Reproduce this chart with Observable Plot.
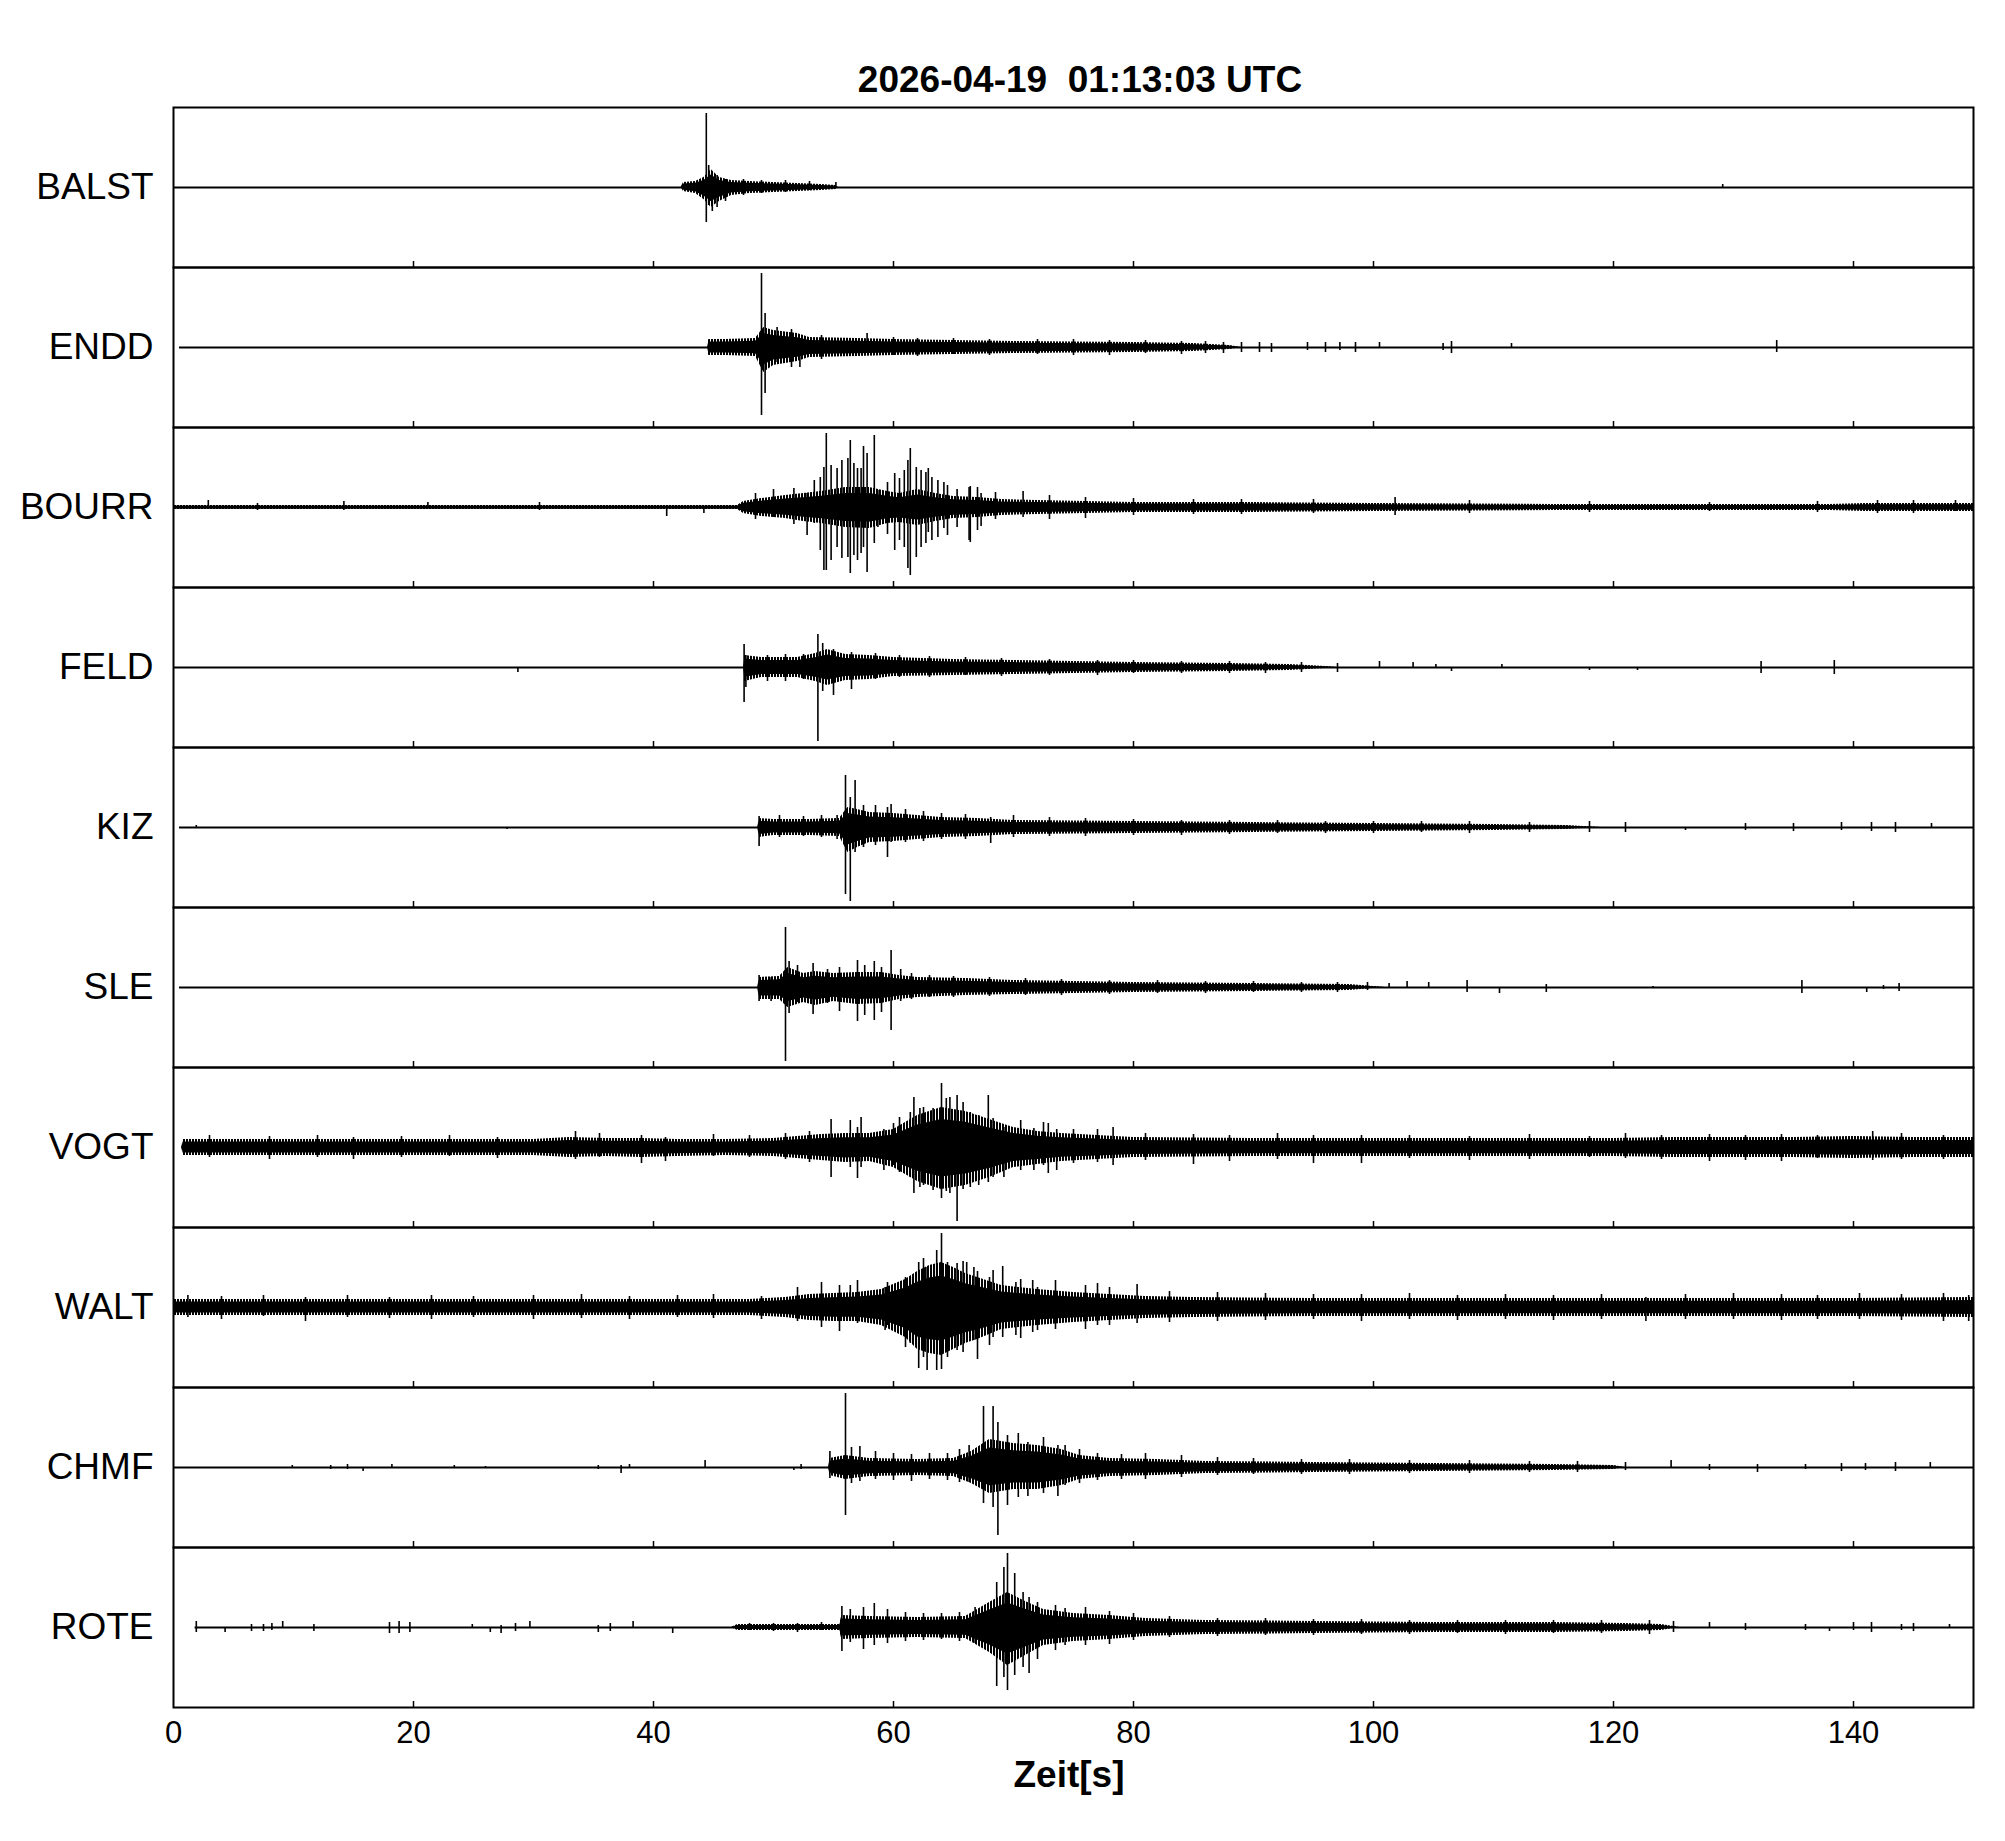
<!DOCTYPE html>
<html><head><meta charset="utf-8">
<script src="https://cdn.jsdelivr.net/npm/d3@7"></script>
<script src="https://cdn.jsdelivr.net/npm/@observablehq/plot@0.6"></script>
<style>
body{margin:0;background:#fff;}
#wrap{position:relative;width:2005px;height:1841px;font-family:"Liberation Sans",Arial,sans-serif;}
.lbl{position:absolute;white-space:pre;font-weight:bold;font-size:37px;line-height:37px;color:#000;transform:translateX(-50%);}
</style></head>
<body><div id="wrap"><div id="chart"></div>
<div class="lbl" id="title" style="left:1080px;top:61px;">2026-04-19  01:13:03 UTC</div>
<div class="lbl" id="xlabel" style="left:1069px;top:1756px;">Zeit[s]</div>
</div>
<script>
const stations = ["BALST","ENDD","BOURR","FELD","KIZ","SLE","VOGT","WALT","CHMF","ROTE"];
const traceStart = [0,0.5,0,0,0.5,0.5,0.7,0,0,1.8];
const traceEnd = 150;
const xTickLabels = [0,20,40,60,80,100,120,140];
const rowTicks = [20,40,60,80,100,120,140];

// envelope breakpoints: [time s, upper amplitude, lower amplitude]
const envBALST = [[0,0,0],[42.3,0,0],[42.5,5,4],[43.5,6,6],[44.2,10,12],[44.8,18,20],[45.5,10,14],[46.5,7,8],[48,6,6],[50,5,5],[52,4,4],[54,3,3],[55.2,2,2],[55.4,0,0],[150,0,0]];
const envENDD = [[0.5,0,0],[44.5,0,0],[44.6,8,8],[46,8,8],[48.5,9,9],[49.2,20,25],[50,17,18],[52,14,14],[53,10,10],[57,9,9],[60,8,8],[65,7,7],[70,6,6],[80,5,5],[85,4,4],[88,2,2],[89,0,0],[150,0,0]];
const envBOURR = [[0,2,2],[47,2,2],[47.5,6,6],[49,9,9],[51,12,11],[52.5,14,14],[54,16,16],[56,20,20],[58,20,21],[59.5,16,16],[60.5,14,15],[62,18,18],[63.5,14,14],[65,11,11],[67,10,10],[69,8,8],[72,7,7],[76,6,6],[80,5,5],[90,5,5],[100,4,4],[115,3,3],[130,3,3],[138,3,3],[141,4,4],[150,4,4]];
const envFELD = [[0,0,0],[47.5,0,0],[47.6,12,14],[49,10,10],[52,10,10],[53.5,14,14],[54.5,18,18],[56,13,13],[58,12,12],[60,10,9],[65,8,8],[70,7,7],[75,6,6],[80,5,5],[88,4,4],[93,3,3],[96,1,1],[97,0,0],[150,0,0]];
const envKIZ = [[0.5,0,0],[48.7,0,0],[48.8,9,10],[50,8,8],[53,8,8],[55.5,9,9],[56.2,20,25],[57,18,20],[58,15,15],[60,14,14],[62,12,12],[64,10,10],[67,9,9],[70,7,7],[80,6,6],[90,5,5],[100,4,4],[110,3,3],[116,2,2],[119,0,0],[150,0,0]];
const envSLE = [[0.5,0,0],[48.7,0,0],[48.8,10,12],[50.5,11,12],[51.2,20,20],[52.5,14,15],[53.5,16,18],[55,14,14],[57,15,17],[59,15,16],[60.5,12,12],[62,10,10],[66,9,8],[70,7,7],[75,6,6],[80,5,5],[90,4,4],[98,3,3],[100,1,1],[101,0,0],[150,0,0]];
const envVOGT = [[0.7,0,0],[0.8,8,8],[10,8,8],[20,8,8],[30,8,8],[33,10,10],[36,9,9],[39,9,10],[42,8,9],[46,8,8],[50,9,9],[52,11,11],[54,13,13],[56,14,15],[58,14,14],[60,18,20],[62,32,34],[64,40,42],[66,36,38],[68,28,30],[70,20,20],[72,16,17],[74,14,14],[77,12,12],[80,10,10],[90,9,9],[100,9,9],[110,9,9],[120,9,9],[125,10,10],[135,10,10],[140,11,11],[145,10,10],[150,10,10]];
const envWALT = [[0,8,8],[10,8,8],[20,8,8],[30,8,8],[40,8,8],[48,8,8],[51,10,10],[53,13,13],[55,14,14],[57,15,14],[59,18,18],[61,28,30],[62,36,42],[63,42,46],[64,45,48],[65,40,42],[66,34,36],[67,30,32],[69,22,22],[72,18,18],[75,15,15],[78,13,13],[81,11,11],[85,10,10],[95,9,9],[110,9,9],[125,9,9],[140,9,9],[150,10,10]];
const envCHMF = [[0,0,0],[54.6,0,0],[54.7,9,8],[56,12,12],[58,9,9],[62,8,8],[65,9,9],[66.5,16,16],[68,28,26],[70,24,22],[72,22,22],[74,18,18],[75.5,12,12],[78,9,9],[82,8,8],[86,6,6],[95,5,5],[105,4,4],[115,3,3],[120,2,2],[121,0,0],[150,0,0]];
const envROTE = [[1.8,0,0],[46.5,0,0],[47,3,3],[55.5,3,3],[55.7,12,12],[58,11,11],[62,10,10],[66,11,11],[68,25,25],[69.5,35,38],[71,26,28],[72.5,18,18],[75,14,14],[78,12,12],[81,9,9],[86,7,7],[95,6,6],[105,5,5],[115,5,5],[121,4,4],[124,3,3],[125.5,0,0],[150,0,0]];

// prominent peaks: [time s, upward peak, downward peak]
const spkBALST = [[44.4,74,35],[44.6,22,18],[44.9,8,24],[45.3,12,20],[46,8,14],[47.5,8,8],[49,7,6],[51,7,5],[53,6,3],[55.2,5,0],[129.1,3,0]];
const spkENDD = [[49.0,74,68],[49.3,34,46],[50.3,20,15],[51.5,18,20],[52.2,8,20],[54,12,12],[57.8,14,6],[60,10,8],[62,9,9],[65,9,7],[68,8,8],[72,8,7],[75,8,8],[78,7,8],[81,7,6],[84,6,7],[86,6,6],[87.5,5,6],[89,5,5],[90.5,5,5],[91.5,4,5],[94.5,5,3],[96,5,5],[97.2,5,3],[98.5,5,5],[100.5,5,0],[105.8,4,3],[106.5,6,6],[111.5,4,0],[133.6,7,5]];
const spkBOURR = [[2.9,7,0],[7,4,3],[14.2,6,3],[21.2,5,0],[30.5,5,3],[41.1,0,9],[44.2,0,6],[48.5,14,12],[50,18,10],[51.7,19,17],[52.8,14,28],[53.4,27,16],[53.9,30,43],[54.2,40,63],[54.4,74,63],[54.8,42,53],[55.3,39,40],[55.7,47,51],[56.2,49,50],[56.4,67,66],[56.7,44,48],[57.0,39,53],[57.3,39,46],[57.5,61,40],[57.8,54,65],[58.4,72,36],[58.7,17,20],[59.5,25,27],[60.1,34,43],[60.5,29,33],[60.9,37,40],[61.2,47,61],[61.4,59,68],[61.9,40,50],[62.3,37,40],[62.7,35,36],[62.9,39,25],[63.2,30,33],[63.7,27,30],[64.2,25,21],[64.5,22,28],[65.3,18,20],[66.3,20,33],[66.4,21,35],[67.0,20,23],[67.3,14,19],[68.5,15,12],[70.8,16,10],[73,12,12],[76,10,11],[80,9,8],[85,8,7],[89,8,7],[95,8,6],[101.8,10,8],[108,7,6],[118,6,5],[128,5,4],[137,6,5],[142,7,6],[145,7,6],[148.5,7,4]];
const spkFELD = [[28.7,0,5],[47.55,23,35],[47.7,12,20],[49.5,12,14],[51,13,14],[52.5,13,12],[53.7,33,74],[54.1,24,24],[55,18,28],[56.5,15,22],[58.5,14,12],[60.5,12,10],[63,11,10],[66,10,8],[69,9,9],[73,8,8],[77,7,8],[80,7,6],[84,6,6],[88,6,6],[91,5,6],[94,5,5],[97,4,5],[100.5,6,0],[103.3,5,0],[105.2,3,0],[106.5,0,4],[110.7,3,0],[118,0,3],[122,0,3],[132.3,6,6],[138.4,7,7]];
const spkKIZ = [[1.9,2,0],[27.8,0,2],[48.8,11,19],[50.5,12,10],[52.5,11,9],[54,12,10],[55.3,12,12],[56,52,67],[56.4,30,74],[56.8,47,25],[57.5,22,20],[58.5,22,18],[59.5,20,30],[59.8,23,15],[61,18,15],[62.5,16,14],[64,14,12],[66,13,12],[68.1,10,16],[70,12,10],[73,10,9],[76,9,9],[80,8,8],[84,7,8],[88,7,7],[92,7,6],[96,6,6],[100,6,6],[104,6,5],[108,6,6],[113,5,5],[118,6,5],[121,5,5],[126,0,3],[131,4,3],[135,4,4],[139,5,3],[141.5,5,4],[143.5,5,5],[146.5,4,0]];
const spkSLE = [[48.8,12,14],[49.8,10,14],[51.0,60,74],[51.3,26,26],[52.0,22,15],[53.3,24,27],[54.5,18,16],[55.5,20,24],[57.0,27,34],[57.6,22,28],[58.4,26,33],[59.0,20,25],[59.8,37,43],[60.6,18,14],[61.5,14,12],[63,12,10],[65,11,10],[68,10,9],[71,9,8],[74,8,8],[78,7,7],[82,7,6],[86,6,6],[90,6,5],[94,5,5],[97,5,5],[99.5,5,3],[101.3,4,0],[102.8,6,0],[104.6,5,0],[107.8,7,5],[110.5,0,6],[114.4,3,5],[123.3,1,1],[135.7,7,6],[141.1,0,5],[142.5,2,2],[143.8,4,4]];
const spkVOGT = [[3,12,10],[8,11,12],[12,12,10],[15,10,12],[19,11,10],[23,12,9],[27,10,11],[33.5,16,12],[35.5,14,10],[39,12,16],[41,10,14],[45,13,9],[48,12,10],[51,14,12],[53,16,15],[54.8,28,30],[56.4,27,20],[57,20,31],[57.3,30,20],[59.2,18,23],[60,24,18],[60.5,30,25],[61.4,35,30],[61.7,50,46],[62.2,39,40],[62.5,40,38],[63.3,39,43],[64.0,64,51],[64.4,49,44],[64.7,50,46],[65.3,52,74],[65.8,45,42],[66.4,35,40],[67.1,32,38],[67.9,52,35],[68.3,29,30],[69.2,20,30],[70.6,27,23],[71.7,19,23],[72.5,25,18],[72.9,24,26],[73.6,18,23],[75,18,16],[77,18,15],[78.3,20,18],[81,14,13],[85,13,17],[88,12,14],[92,14,12],[95,12,16],[99,12,16],[103,12,11],[108,11,13],[113,13,12],[118,11,10],[121,14,11],[124,12,12],[128,13,14],[131,12,13],[134,13,14],[137,12,11],[141.6,16,13],[144,14,12],[147.5,12,12]];
const spkWALT = [[1.2,12,10],[4,11,12],[7.5,12,9],[11,10,14],[14.5,12,10],[18,10,11],[21.5,12,12],[25,11,10],[30,12,12],[34,13,11],[38,11,12],[42,12,10],[45,13,11],[49,11,12],[52,20,14],[54,25,20],[55.5,22,24],[56.4,22,14],[57,27,16],[59.3,20,23],[59.5,25,18],[61,30,40],[61.4,30,36],[62.1,45,61],[62.5,49,50],[62.8,40,63],[63.6,57,63],[64.0,74,62],[64.5,45,50],[65.3,44,43],[65.8,46,45],[66.1,45,35],[66.7,40,33],[67,36,52],[68,30,38],[68.3,37,30],[69.1,41,30],[70.2,25,28],[70.6,28,31],[71.6,27,25],[72,20,23],[73.5,27,22],[76,22,22],[77,24,18],[78,20,18],[80.3,23,16],[83,16,15],[87,15,14],[91,14,13],[95,13,12],[99,13,14],[103,14,12],[107,12,13],[111,13,12],[115,12,13],[119,13,12],[122.7,10,14],[126,13,12],[130,14,12],[134,13,13],[137,12,12],[140.5,14,12],[144,13,13],[147.5,14,14],[149.6,12,14]];
const spkCHMF = [[9.9,2,0],[13.1,2,2],[14.5,3,2],[15.8,0,4],[18.2,3,0],[23.4,2,0],[26,1,1],[35.4,2,2],[37.3,2,6],[38,3,0],[44.3,7,0],[51.7,0,3],[52.3,3,2],[54.7,16,11],[56.0,74,48],[56.5,20,16],[57.2,21,14],[58.5,16,12],[60,14,13],[61.5,13,14],[63,14,12],[64.5,14,13],[65.5,18,15],[66.3,22,15],[67.5,61,36],[68.3,61,40],[68.7,45,68],[69.5,32,38],[70.4,34,30],[71.2,25,29],[72.5,30,26],[73.7,22,29],[74.3,22,18],[75.5,18,16],[77,14,13],[79,13,12],[81,14,12],[84,12,10],[87,10,8],[90,9,7],[94,8,7],[98,8,7],[103,7,6],[108,7,6],[113,6,5],[117,6,5],[121,5,3],[124.8,7,0],[128,3,3],[132,3,5],[136,3,2],[139,4,4],[141,4,3],[143.5,5,4],[146.4,5,0]];
const spkROTE = [[1.9,6,5],[4.3,0,5],[6.5,3,4],[7.5,3,4],[8.2,4,3],[9.1,6,0],[11.7,3,4],[18,5,6],[18.8,6,6],[19.7,5,5],[24.9,3,0],[26.4,0,5],[27.3,2,6],[28.5,4,4],[29.7,6,0],[35.4,2,5],[36.4,4,4],[38.3,6,0],[41.6,0,6],[48,4,3],[50,4,4],[52,4,5],[54,5,3],[55.7,21,24],[56.4,18,15],[57.5,20,22],[58.4,24,18],[59.5,18,16],[61,15,14],[62.5,14,13],[64,14,12],[65.5,15,14],[66.8,20,16],[68.6,45,59],[69.2,60,50],[69.5,74,63],[70.1,54,48],[70.8,35,40],[71.3,30,46],[72,25,32],[73.5,22,23],[74.3,19,18],[76,20,18],[78,16,17],[80,14,13],[83,11,10],[87,9,9],[91,9,8],[95,8,8],[99,8,7],[103,7,7],[107,7,6],[111,7,7],[115,7,6],[119,7,6],[123,7,7],[125,6,5],[128,5,0],[131,4,3],[136,3,3],[138,0,4],[140,5,3],[141.5,5,5],[144,3,3],[145,4,4],[148,3,0]];

const envs = [envBALST,envENDD,envBOURR,envFELD,envKIZ,envSLE,envVOGT,envWALT,envCHMF,envROTE];
const spks = [spkBALST,spkENDD,spkBOURR,spkFELD,spkKIZ,spkSLE,spkVOGT,spkWALT,spkCHMF,spkROTE];

const envRows = stations.flatMap((s,i) => envs[i].map(([t,up,down]) => ({station:s, t, up, down})));
const spkRows = stations.flatMap((s,i) => spks[i].map(([t,up,down]) => ({station:s, t, up, down})));
const baseRows = stations.map((s,i) => ({station:s, t0:traceStart[i], t1:traceEnd}));

const coreShare = 0.7; // share of the envelope drawn as the solid dense core

const chart = Plot.plot({
  width: 2005, height: 1841,
  marginLeft: 173, marginRight: 32, marginTop: 107, marginBottom: 134,
  x: {domain: [0, 150]},
  y: {domain: [-80, 80], axis: null},
  fy: {domain: stations, padding: 0, axis: null},
  style: {fontFamily: '"Liberation Sans", Arial, sans-serif', background: "white", color: "black"},
  marks: [
    Plot.areaY(envRows, {fy: "station", x: "t", y1: d => -d.down, y2: "up", fill: "url(#wiggle)", curve: "linear"}),
    Plot.areaY(envRows, {fy: "station", x: "t", y1: d => -d.down * coreShare, y2: d => d.up * coreShare, fill: "black", curve: "linear"}),
    Plot.ruleX(spkRows, {fy: "station", x: "t", y1: d => -d.down, y2: "up", stroke: "black", strokeWidth: 1.6}),
    Plot.ruleY(baseRows, {fy: "station", y: 0, x1: "t0", x2: "t1", stroke: "black", strokeWidth: 2}),
    Plot.ruleX(rowTicks, {x: d => d, y1: -80, y2: -74, stroke: "black", strokeWidth: 1.5}),
    Plot.frame({stroke: "black", strokeWidth: 2}),
    Plot.axisFy({anchor: "left", tickSize: 0, tickPadding: 20, fontSize: 37, label: null}),
    Plot.axisX({anchor: "bottom", ticks: xTickLabels, tickSize: 0, tickPadding: 13, fontSize: 31, label: null})
  ]
});
const defs = d3.select(chart).insert("defs", ":first-child");
const pat = defs.append("pattern").attr("id", "wiggle").attr("patternUnits", "userSpaceOnUse").attr("width", 3).attr("height", 6);
pat.append("rect").attr("x", 0).attr("y", 0).attr("width", 2).attr("height", 6).attr("fill", "black");
document.getElementById("chart").appendChild(chart);
</script>
</body></html>
